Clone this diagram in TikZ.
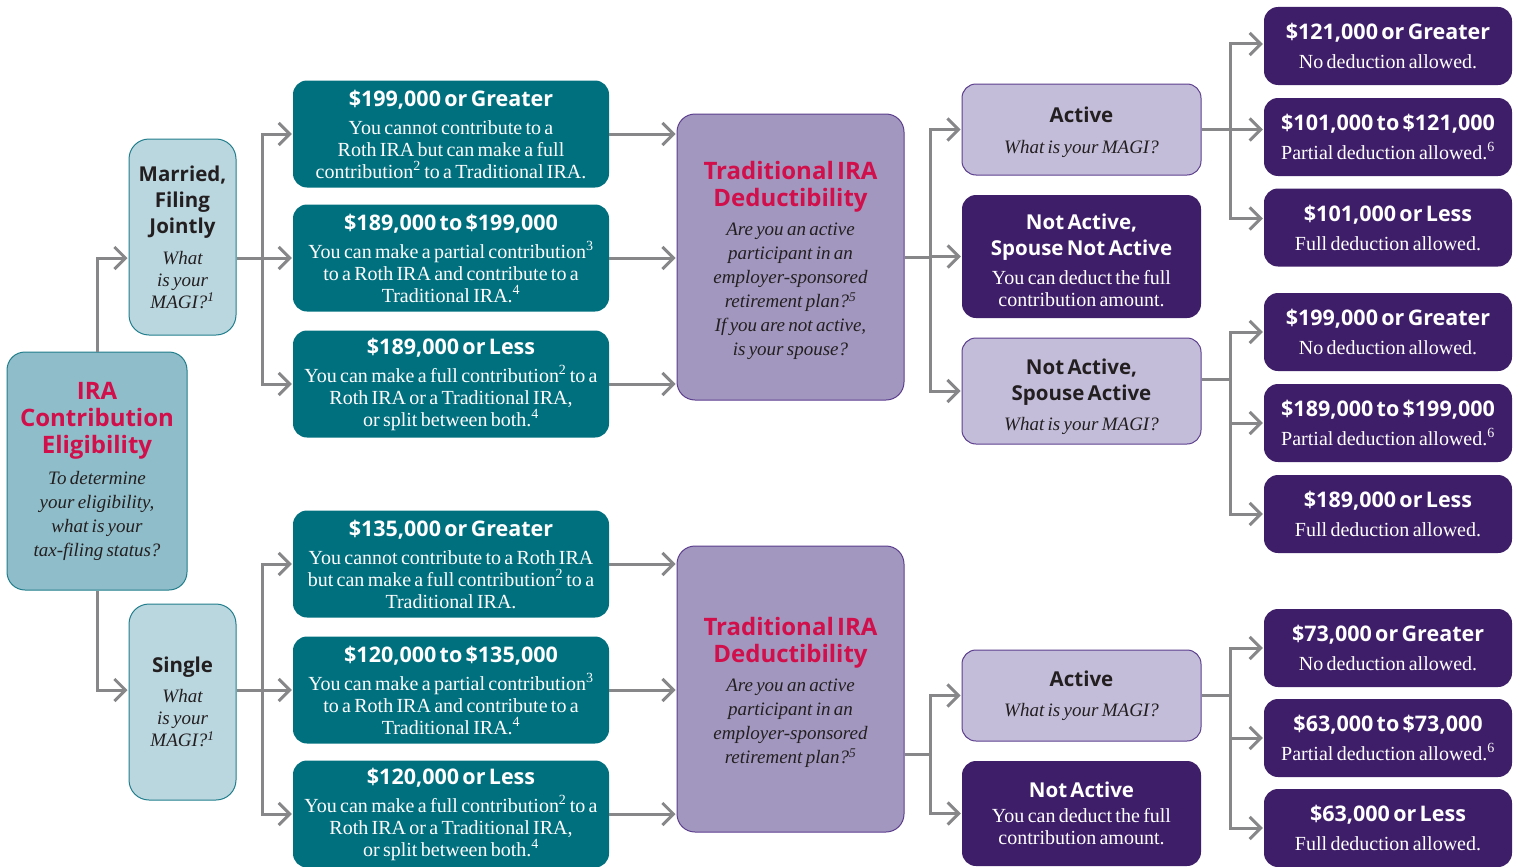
\documentclass[tikz,border=0pt]{standalone}
\usepackage{fontspec}
\setmainfont{Liberation Serif}
\setsansfont{Open Sans}
\usetikzlibrary{arrows.meta,calc}

\definecolor{rootfill}{HTML}{8FBDC9}
\definecolor{tealline}{HTML}{217E8C}
\definecolor{filingfill}{HTML}{BAD7E0}
\definecolor{ircteal}{HTML}{00707F}
\definecolor{dedfill}{HTML}{A297BF}
\definecolor{purpline}{HTML}{5C3F8E}
\definecolor{askfill}{HTML}{C4BDDA}
\definecolor{darkpurp}{HTML}{3F1E69}
\definecolor{titlered}{HTML}{D10F4B}
\definecolor{arrgray}{HTML}{87878A}
\definecolor{ink}{HTML}{231F20}

\newcommand\hd[2][6pt]{{\sffamily\bfseries\fontsize{20.5}{26}\selectfont #2\par}\vspace{#1}}
\newcommand\amt[2][6pt]{{\sffamily\bfseries\fontsize{21.5}{26}\selectfont #2\par}\vspace{#1}}
\newcommand\ttl[2][5pt]{{\sffamily\bfseries\fontsize{24}{27}\selectfont\color{titlered}#2\par}\vspace{#1}}
\newcommand\bd[1]{{\fontsize{20}{22}\selectfont #1\par}}
\newcommand\qu[2][22]{{\itshape\fontsize{19}{#1}\selectfont #2\par}}

\begin{document}
\begin{tikzpicture}[x=1pt, y=-1pt,
  every node/.style={align=center, inner sep=0pt},
  rootbox/.style={fill=rootfill, draw=tealline, line width=1pt, rounded corners=18pt,
    text width=176pt, minimum width=180pt, minimum height=238pt, text=ink},
  filing/.style={fill=filingfill, draw=tealline, line width=1pt, rounded corners=20pt,
    text width=104pt, minimum width=107pt, minimum height=196pt, text=ink},
  rangebox/.style={fill=ircteal, rounded corners=14pt, text width=314pt,
    minimum width=316pt, minimum height=107pt, text=white},
  deduct/.style={fill=dedfill, draw=purpline, line width=1pt, rounded corners=18pt,
    text width=222pt, minimum width=227pt, minimum height=286pt, text=ink},
  ask/.style={fill=askfill, draw=purpline, line width=1pt, rounded corners=14pt,
    text width=235pt, minimum width=239pt, text=ink},
  answer/.style={fill=darkpurp, rounded corners=14pt, text width=235pt,
    minimum width=239pt, text=white},
  result/.style={fill=darkpurp, rounded corners=14pt, text width=244pt,
    minimum width=248pt, minimum height=78pt, text=white},
  link/.style={draw=arrgray, line width=3pt},
  arr/.style={link, -{Straight Barb[length=11pt,width=22pt]}, shorten >=1pt}]

\useasboundingbox (0,0) rectangle (1520,867);

% filing status
\node[rootbox] (root) at (97,471) {\ttl[7pt]{IRA\\Contribution\\Eligibility}%
  \qu[24]{To determine\\your eligibility,\\what is your\\tax-filing status?}};
\node[filing] (mfj) at (182.5,237) {\hd[9pt]{Married,\\Filing\\Jointly}%
  \qu{What\\is your\\MAGI?\textsuperscript{1}}};
\node[filing] (single) at (182.5,702) {\hd[8pt]{Single}%
  \qu{What\\is your\\MAGI?\textsuperscript{1}}};

% contribution limits
\node[rangebox] (c1) at (451,134) {\amt{\$199,000 or Greater}%
  \bd{You cannot contribute to a\\Roth IRA but can make a full\\contribution\textsuperscript{2} to a Traditional IRA.}};
\node[rangebox] (c2) at (451,258) {\amt{\$189,000 to \$199,000}%
  \bd{You can make a partial contribution\textsuperscript{3}\\to a Roth IRA and contribute to a\\Traditional IRA.\textsuperscript{4}}};
\node[rangebox] (c3) at (451,384) {\amt{\$189,000 or Less}%
  \bd{You can make a full contribution\textsuperscript{2} to a\\Roth IRA or a Traditional IRA,\\or split between both.\textsuperscript{4}}};
\node[rangebox] (c4) at (451,564) {\amt{\$135,000 or Greater}%
  \bd{You cannot contribute to a Roth IRA\\but can make a full contribution\textsuperscript{2} to a\\Traditional IRA.}};
\node[rangebox] (c5) at (451,690) {\amt{\$120,000 to \$135,000}%
  \bd{You can make a partial contribution\textsuperscript{3}\\to a Roth IRA and contribute to a\\Traditional IRA.\textsuperscript{4}}};
\node[rangebox] (c6) at (451,814) {\amt{\$120,000 or Less}%
  \bd{You can make a full contribution\textsuperscript{2} to a\\Roth IRA or a Traditional IRA,\\or split between both.\textsuperscript{4}}};

% deductibility
\node[deduct] (ded1) at (790.5,257) {\ttl{\rule{0pt}{25pt}Traditional IRA\\Deductibility}%
  \qu[24]{Are you an active\\participant in an\\employer-sponsored\\retirement plan?\textsuperscript{5}\\If you are not active,\\is your spouse?}};
\node[deduct] (ded2) at (790.5,689) {\ttl{\rule{0pt}{25pt}Traditional IRA\\Deductibility}%
  \qu[24]{Are you an active\\participant in an\\employer-sponsored\\retirement plan?\textsuperscript{5}}};

\node[ask, minimum height=91pt] (act1) at (1081.5,129.5) {\hd[9pt]{\rule{0pt}{21.5pt}Active}\qu{What is your MAGI?}};
\node[answer, minimum height=123pt] (na1) at (1081.5,256.5) {\hd[7pt]{\rule{0pt}{23.5pt}Not Active,\\Spouse Not Active}%
  \bd{You can deduct the full\\contribution amount.}};
\node[ask, minimum height=106pt] (sa1) at (1081.5,391) {\hd[8pt]{\rule{0pt}{27.5pt}Not Active,\\Spouse Active}\qu{What is your MAGI?}};
\node[ask, minimum height=91pt] (act2) at (1081.5,695.5) {\hd[8pt]{Active}\qu{What is your MAGI?}};
\node[answer, minimum height=105pt] (na2) at (1081.5,813.5) {\hd[3pt]{Not Active}%
  \bd{You can deduct the full\\contribution amount.}};

% deduction limits
\node[result] (r1) at (1388,46) {\amt[7pt]{\$121,000 or Greater}\bd{No deduction allowed.}};
\node[result] (r2) at (1388,137) {\amt[7pt]{\$101,000 to \$121,000}\bd{Partial deduction allowed.\textsuperscript{6}}};
\node[result] (r3) at (1388,227.5) {\amt[7pt]{\$101,000 or Less}\bd{Full deduction allowed.}};
\node[result] (r4) at (1388,332) {\amt[7pt]{\$199,000 or Greater}\bd{No deduction allowed.}};
\node[result] (r5) at (1388,423) {\amt[7pt]{\$189,000 to \$199,000}\bd{Partial deduction allowed.\textsuperscript{6}}};
\node[result] (r6) at (1388,514) {\amt[7pt]{\$189,000 or Less}\bd{Full deduction allowed.}};
\node[result] (r7) at (1388,648) {\amt[7pt]{\$73,000 or Greater}\bd{No deduction allowed.}};
\node[result] (r8) at (1388,738) {\amt[7pt]{\$63,000 to \$73,000}\bd{Partial deduction allowed.\textsuperscript{6}}};
\node[result] (r9) at (1388,828) {\amt[7pt]{\$63,000 or Less}\bd{Full deduction allowed.}};

% connectors
\draw[arr] (root.north) |- ([yshift=-21pt]mfj.west);
\draw[arr] (root.south) |- ([yshift=12pt]single.west);

\draw[link] ([yshift=-21pt]mfj.east) -- ++(26,0) coordinate (mfork);
\foreach \n in {c1,c2,c3} \draw[arr] (mfork) |- (\n.west);
\draw[link] ([yshift=12pt]single.east) -- ++(26,0) coordinate (sfork);
\foreach \n in {c4,c5,c6} \draw[arr] (sfork) |- (\n.west);

\foreach \n in {c1,c2,c3} \draw[arr] (\n.east) -- (\n.east -| ded1.west);
\foreach \n in {c4,c5,c6} \draw[arr] (\n.east) -- (\n.east -| ded2.west);

\draw[link] (ded1.east) -- ++(26,0) coordinate (dfork);
\foreach \n in {act1,na1,sa1} \draw[arr] (dfork) |- (\n.west);
\coordinate (dmid) at ($(act2.west)!.5!(na2.west)$);
\draw[link] (ded2.east |- dmid) -- ++(26,0) coordinate (dfork2);
\foreach \n in {act2,na2} \draw[arr] (dfork2) |- (\n.west);

\draw[link] (act1.east) -- ++(29,0) coordinate (afork);
\draw[arr] (afork) |- ([yshift=2pt]r1.west);
\draw[arr] (afork) -- (afork -| r2.west);
\draw[arr] (afork) |- ([yshift=9pt]r3.west);
\draw[link] ([yshift=12pt]sa1.east) -- ++(29,0) coordinate (safork);
\foreach \n in {r4,r5,r6} \draw[arr] (safork) |- (\n.west);
\draw[link] (act2.east) -- ++(29,0) coordinate (afork2);
\foreach \n in {r7,r8,r9} \draw[arr] (afork2) |- (\n.west);
\end{tikzpicture}
\end{document}
